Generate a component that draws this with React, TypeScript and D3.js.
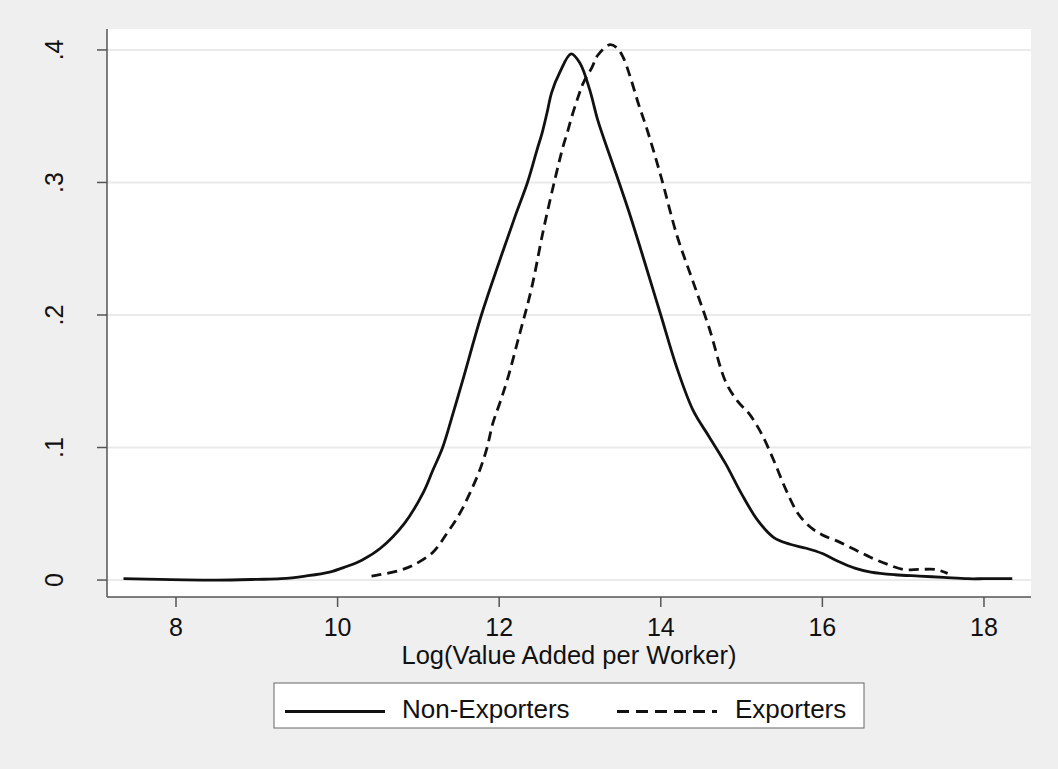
import React, { useEffect, useRef } from 'react';
import { select, scaleLinear, line, curveCatmullRom } from 'd3';

// kernel density estimates
const nonExpX = [7.35, 7.8, 8.5, 9.0, 9.3, 9.6, 9.9, 10.1, 10.3, 10.53, 10.83, 11.06, 11.18, 11.3, 11.43, 11.55, 11.78, 12.0, 12.2, 12.35, 12.47, 12.53, 12.59, 12.65, 12.75, 12.89, 13.0, 13.12, 13.22, 13.33, 13.45, 13.6, 13.8, 14.0, 14.2, 14.4, 14.6, 14.8, 15.0, 15.2, 15.4, 15.6, 15.8, 16.0, 16.2, 16.4, 16.6, 16.9, 17.2, 17.5, 17.8, 18.0, 18.35];
const nonExpY = [0.001, 0.0005, 0, 0.0005, 0.001, 0.003, 0.006, 0.01, 0.015, 0.024, 0.043, 0.066, 0.083, 0.1, 0.126, 0.151, 0.2, 0.24, 0.275, 0.3, 0.325, 0.337, 0.352, 0.368, 0.383, 0.397, 0.39, 0.37, 0.347, 0.327, 0.306, 0.279, 0.24, 0.2, 0.16, 0.128, 0.108, 0.088, 0.065, 0.045, 0.032, 0.027, 0.024, 0.02, 0.014, 0.009, 0.006, 0.004, 0.003, 0.002, 0.001, 0.001, 0.001];

const expX = [10.42, 10.52, 10.75, 10.93, 11.18, 11.35, 11.51, 11.64, 11.76, 11.85, 11.92, 12.01, 12.1, 12.25, 12.4, 12.55, 12.7, 12.79, 12.84, 12.91, 12.98, 13.04, 13.15, 13.22, 13.37, 13.45, 13.53, 13.62, 13.72, 13.83, 14.0, 14.2, 14.4, 14.6, 14.8, 14.95, 15.1, 15.25, 15.4, 15.55, 15.7, 15.85, 16.0, 16.2, 16.4, 16.6, 16.8, 17.0, 17.2, 17.4, 17.55];
const expY = [0.003, 0.004, 0.007, 0.011, 0.021, 0.035, 0.05, 0.066, 0.083, 0.1, 0.118, 0.134, 0.151, 0.185, 0.22, 0.265, 0.305, 0.327, 0.337, 0.352, 0.365, 0.375, 0.387, 0.396, 0.404, 0.402, 0.395, 0.38, 0.36, 0.34, 0.305, 0.26, 0.225, 0.19, 0.15, 0.135, 0.125, 0.11, 0.09, 0.068, 0.05, 0.04, 0.034, 0.029, 0.023, 0.017, 0.012, 0.008, 0.008, 0.008, 0.005];

const xTicks = [8, 10, 12, 14, 16, 18];
const yTicks = [0, 0.1, 0.2, 0.3, 0.4];
const yTickLabels = ['0', '.1', '.2', '.3', '.4'];
const seriesNames = ['Non-Exporters', 'Exporters'];

function App() {
  const svgRef = useRef(null);

  const width = 1058,
    height = 769,
    margin = { top: 29, right: 27, bottom: 172, left: 107 };
  const innerW = width - margin.left - margin.right;
  const innerH = height - margin.top - margin.bottom;
  const font = 'Arial, "Liberation Sans", sans-serif';

  useEffect(() => {
    const root = select(svgRef.current);
    root.selectAll('*').remove();

    root.append('rect').attr('width', width).attr('height', height).attr('fill', '#efefef');

    const svg = root.append('g').attr('transform', `translate(${margin.left}, ${margin.top})`);

    // x scale: 8 -> 176px, 18 -> 984px on the page
    const xScale = scaleLinear().domain([7.146, 18.582]).range([0, innerW]);
    const yScale = scaleLinear().domain([-0.0128, 0.4158]).range([innerH, 0]);

    svg.append('rect').attr('width', innerW).attr('height', innerH).attr('fill', '#ffffff');

    // gridlines
    svg.selectAll('.grid')
      .data(yTicks)
      .enter()
      .append('line')
      .attr('x1', 0)
      .attr('x2', innerW)
      .attr('y1', d => yScale(d))
      .attr('y2', d => yScale(d))
      .attr('stroke', '#eaeaea')
      .attr('stroke-width', 2);

    const axisColor = '#555555';

    // y axis
    svg.append('line').attr('x1', 0).attr('x2', 0).attr('y1', 0).attr('y2', innerH)
      .attr('stroke', axisColor).attr('stroke-width', 1.5);
    svg.selectAll('.ytick')
      .data(yTicks)
      .enter()
      .append('line')
      .attr('x1', -10).attr('x2', 0)
      .attr('y1', d => yScale(d)).attr('y2', d => yScale(d))
      .attr('stroke', axisColor).attr('stroke-width', 1.5);
    svg.selectAll('.ylab')
      .data(yTicks)
      .enter()
      .append('text')
      .attr('transform', d => `translate(-44, ${yScale(d)}) rotate(-90)`)
      .attr('text-anchor', 'middle')
      .attr('font-family', font)
      .attr('font-size', 25)
      .attr('fill', '#111')
      .text((d, i) => yTickLabels[i]);

    // x axis
    svg.append('line').attr('x1', 0).attr('x2', innerW).attr('y1', innerH).attr('y2', innerH)
      .attr('stroke', axisColor).attr('stroke-width', 1.5);
    svg.selectAll('.xtick')
      .data(xTicks)
      .enter()
      .append('line')
      .attr('x1', d => xScale(d)).attr('x2', d => xScale(d))
      .attr('y1', innerH).attr('y2', innerH + 10)
      .attr('stroke', axisColor).attr('stroke-width', 1.5);
    svg.selectAll('.xlab')
      .data(xTicks)
      .enter()
      .append('text')
      .attr('x', d => xScale(d))
      .attr('y', innerH + 39)
      .attr('text-anchor', 'middle')
      .attr('font-family', font)
      .attr('font-size', 25)
      .attr('fill', '#111')
      .text(d => d);

    svg.append('text')
      .attr('x', innerW / 2)
      .attr('y', innerH + 67)
      .attr('text-anchor', 'middle')
      .attr('font-family', font)
      .attr('font-size', 25.5)
      .attr('fill', '#111')
      .text('Log(Value Added per Worker)');

    // density curves
    const lineGen = line()
      .x(d => xScale(d[0]))
      .y(d => yScale(d[1]))
      .curve(curveCatmullRom.alpha(0.5));

    svg.append('path')
      .datum(nonExpX.map((x, i) => [x, nonExpY[i]]))
      .attr('fill', 'none')
      .attr('stroke', '#111')
      .attr('stroke-width', 2.8)
      .attr('d', lineGen);

    svg.append('path')
      .datum(expX.map((x, i) => [x, expY[i]]))
      .attr('fill', 'none')
      .attr('stroke', '#111')
      .attr('stroke-width', 2.8)
      .attr('stroke-dasharray', '10,6')
      .attr('d', lineGen);

    // legend
    const leg = root.append('g').attr('transform', 'translate(274, 683)');
    leg.append('rect').attr('width', 590).attr('height', 45)
      .attr('fill', '#ffffff').attr('stroke', '#666').attr('stroke-width', 1);
    leg.append('line').attr('x1', 11).attr('x2', 111).attr('y1', 28.5).attr('y2', 28.5)
      .attr('stroke', '#111').attr('stroke-width', 2.8);
    leg.append('text').attr('x', 128).attr('y', 35)
      .attr('font-family', font).attr('font-size', 26).attr('fill', '#111')
      .text(seriesNames[0]);
    leg.append('line').attr('x1', 343).attr('x2', 443).attr('y1', 28.5).attr('y2', 28.5)
      .attr('stroke', '#111').attr('stroke-width', 2.8).attr('stroke-dasharray', '12,7');
    leg.append('text').attr('x', 461).attr('y', 35)
      .attr('font-family', font).attr('font-size', 26).attr('fill', '#111')
      .text(seriesNames[1]);
  }, []);

  return (
    <div className='wrapper'>
      <svg
        ref={svgRef}
        width={width}
        height={height}
        style={{ position: 'absolute', left: 0, top: 0, display: 'block' }}
      ></svg>
    </div>
  );
}

export default App;
